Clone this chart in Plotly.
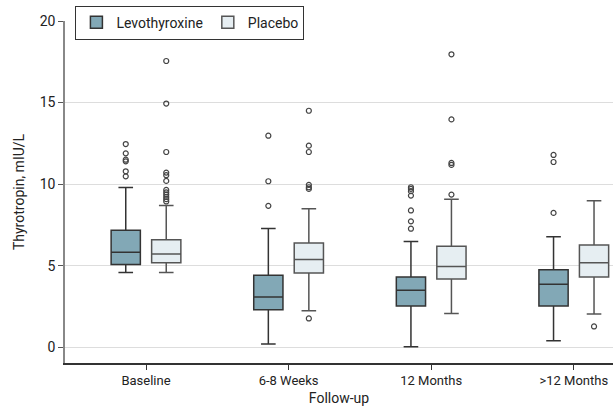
import plotly.graph_objects as go

categories = ["Baseline", "6-8 Weeks", "12 Months", ">12 Months"]

# Levothyroxine stats
levo_q1 = [5.07, 2.30, 2.54, 2.54]
levo_med = [5.82, 3.09, 3.50, 3.87]
levo_q3 = [7.17, 4.42, 4.31, 4.76]
levo_lo = [4.58, 0.20, 0.04, 0.41]
levo_hi = [9.79, 7.29, 6.49, 6.78]
levo_out = [
    [12.46, 11.89, 11.5, 11.4, 10.79, 10.48],
    [12.97, 10.18, 8.67],
    [9.81, 9.71, 9.57, 9.3, 8.39, 7.72, 7.27],
    [11.79, 11.36, 8.24],
]

# Placebo stats
plac_q1 = [5.19, 4.56, 4.19, 4.31]
plac_med = [5.72, 5.39, 4.95, 5.19]
plac_q3 = [6.60, 6.39, 6.19, 6.27]
plac_lo = [4.58, 2.24, 2.08, 2.05]
plac_hi = [8.69, 8.49, 9.08, 8.98]
plac_out = [
    [17.55, 14.94, 11.97, 10.71, 10.55, 10.2, 9.65, 9.5, 9.36, 9.22, 9.08, 8.94],
    [14.5, 12.36, 11.97, 9.96, 9.81, 9.71, 1.77],
    [17.96, 13.97, 11.3, 11.18, 9.36],
    [1.28],
]

OFF = 0.142
BW = 0.205
idx = list(range(len(categories)))

fig = go.Figure()

fig.add_trace(go.Box(
    name="Levothyroxine",
    x=[i - OFF for i in idx],
    q1=levo_q1, median=levo_med, q3=levo_q3,
    lowerfence=levo_lo, upperfence=levo_hi,
    width=BW, boxpoints=False,
    fillcolor="#82a8b6", line=dict(color="#333333", width=1.5),
    whiskerwidth=0.5,
))
fig.add_trace(go.Box(
    name="Placebo",
    x=[i + OFF for i in idx],
    q1=plac_q1, median=plac_med, q3=plac_q3,
    lowerfence=plac_lo, upperfence=plac_hi,
    width=BW, boxpoints=False,
    fillcolor="#e6eef2", line=dict(color="#555555", width=1.5),
    whiskerwidth=0.5,
))

ox, oy = [], []
for i, vals in enumerate(levo_out):
    ox += [i - OFF] * len(vals)
    oy += vals
for i, vals in enumerate(plac_out):
    ox += [i + OFF] * len(vals)
    oy += vals
fig.add_trace(go.Scatter(
    x=ox, y=oy, mode="markers", showlegend=False,
    marker=dict(symbol="circle-open", size=5, color="#444444", line=dict(width=1.2)),
    hoverinfo="y",
))

font_family = "Roboto, Liberation Sans, sans-serif"

fig.update_layout(
    width=613, height=415,
    margin=dict(l=65, r=0, t=21, b=52),
    paper_bgcolor="white", plot_bgcolor="white",
    font=dict(family=font_family, size=13, color="#222222"),
    showlegend=True,
    legend=dict(
        orientation="h", x=0.019, y=1.045, xanchor="left", yanchor="top",
        bordercolor="#333333", borderwidth=1, bgcolor="white",
        font=dict(size=14), itemwidth=30,
    ),
    xaxis=dict(
        range=[-0.568, 3.275],
        tickvals=idx, ticktext=categories,
        showgrid=False, zeroline=False,
        showline=True, linecolor="#333333", linewidth=1.5,
        ticks="outside", ticklen=5, tickcolor="#333333",
        title=dict(text="Follow-up", standoff=6, font=dict(size=14)),
        tickfont=dict(size=13),
    ),
    yaxis=dict(
        range=[-0.96, 20],
        tickvals=[0, 5, 10, 15, 20],
        showgrid=True, gridcolor="#dddddd", gridwidth=1,
        zeroline=False,
        showline=True, linecolor="#888888", linewidth=1.5,
        ticks="outside", ticklen=5, tickcolor="#555555",
        title=dict(text="Thyrotropin, mIU/L", standoff=12, font=dict(size=14)),
        tickfont=dict(size=14),
    ),
)

fig.write_html("out.html", config={"displayModeBar": False},
               post_script="document.body.style.margin='0';")
